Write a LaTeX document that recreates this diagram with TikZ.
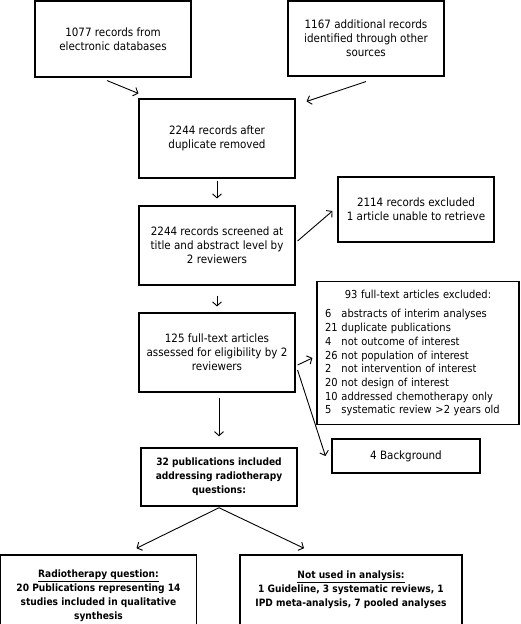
\documentclass[tikz,border=0pt]{standalone}
\usepackage{fontspec}
\setmainfont{DejaVu Sans Condensed}
\usetikzlibrary{arrows.meta,calc}
\tikzstyle{block} = [draw, rectangle, line width=1.1pt, align=center, inner sep=2pt,
    minimum width=156pt, minimum height=79pt, font=\fontsize{11.5}{14}\selectfont]
\tikzstyle{result} = [block, line width=1.5pt, font=\bfseries\fontsize{10.1}{14}\selectfont]
\tikzstyle{flow} = [->, line width=0.9pt]
\newcommand{\nr}[1]{\makebox[16.5pt][l]{#1}}

\begin{document}
\begin{tikzpicture}[x=1pt,y=-1pt,>={Straight Barb[length=4pt,width=9pt]}]
\useasboundingbox (0,0) rectangle (520,624);

    % identification and screening
    \node [block, minimum height=76pt] (records_db) at (113,39) {1077 records from\\electronic databases};
    \node [block, minimum height=75pt] (records_other) at (366,38.5) {1167 additional records\\identified through other\\sources};
    \node [block] (dedup) at (217,138.5) {2244 records after\\duplicate removed};
    \node [block] (screened) at (217,245.5) {2244 records screened at\\title and abstract level by\\2 reviewers};
    \node [block] (fulltext) at (217,352.5) {125 full-text articles\\assessed for eligibility by 2\\reviewers};

    % exclusions on the right
    \node [block, minimum height=65pt] (excluded_a) at (416,209.5) {2114 records excluded\\1 article unable to retrieve};
    \node [block, align=left, text width=186pt, inner sep=8pt, minimum height=140pt,
        font=\fontsize{11}{13.7}\selectfont] (excluded_b) at (418,353)
        {{\centering 93 full-text articles excluded:\par}\vspace{6pt}
        \nr{6}abstracts of interim analyses\\
        \nr{21}duplicate publications\\
        \nr{4}not outcome of interest\\
        \nr{26}not population of interest\\
        \nr{2}not intervention of interest\\
        \nr{20}not design of interest\\
        \nr{10}addressed chemotherapy only\\
        \nr{5}systematic review >2 years old};
    \node [block, minimum width=148pt, minimum height=34pt] (background) at (406,456) {4 Background};

    % included studies
    \node [result, minimum height=58pt] (included) at (219,477) {32 publications included\\addressing radiotherapy\\questions:};
    \node [result, minimum width=196pt, minimum height=82pt] (rt_question) at (98.5,596)
        {\underline{Radiotherapy question:}\\20 Publications representing 14\\studies included in qualitative\\synthesis};
    \node [result, minimum width=222pt, minimum height=82pt] (not_used) at (351,596)
        {\underline{Not used in analysis:}\\1 Guideline, 3 systematic reviews, 1\\IPD meta-analysis, 7 pooled analyses\\\mbox{}};

    % free ends of the slanted arrows
    \coordinate (db_out) at ($(records_db.south)+(-6,3)$);
    \coordinate (dedup_in_l) at ($(dedup.north west)+(0,-5)$);
    \coordinate (other_out) at ($(records_other.south)+(0,5)$);
    \coordinate (dedup_in_r) at ($(dedup.north east)+(11,3)$);
    \coordinate (screened_out) at ($(screened.east)+(2,-4.5)$);
    \coordinate (excl_a_in) at ($(excluded_a.west)+(-5,1.5)$);
    \coordinate (fulltext_out_a) at ($(fulltext.east)+(2,12.5)$);
    \coordinate (excl_b_in) at ($(excluded_b.west)+(-4,5)$);
    \coordinate (fulltext_out_b) at ($(fulltext.east)+(2,17.5)$);
    \coordinate (bg_in) at ($(background.west)+(-6,0)$);
    \coordinate (split) at ($(included.south)+(0,1)$);
    \coordinate (rt_in) at ($(rt_question.north)+(38,-6)$);
    \coordinate (nu_in) at ($(not_used.north)+(-47,-6)$);

    % connectors
    \draw [flow] (db_out) -- (dedup_in_l);
    \draw [flow] (other_out) -- (dedup_in_r);
    \draw [flow, shorten <=2pt, shorten >=7pt] (dedup) -- (screened);
    \draw [flow] (screened_out) -- (excl_a_in);
    \draw [flow, shorten <=10pt, shorten >=6pt] (screened) -- (fulltext);
    \draw [flow] (fulltext_out_a) -- (excl_b_in);
    \draw [flow] (fulltext_out_b) -- (bg_in);
    \draw [flow, shorten <=5pt, shorten >=11pt] (included.north |- fulltext.south) -- (included.north);
    \draw [flow] (split) -- (rt_in);
    \draw [flow] (split) -- (nu_in);

\end{tikzpicture}
\end{document}
